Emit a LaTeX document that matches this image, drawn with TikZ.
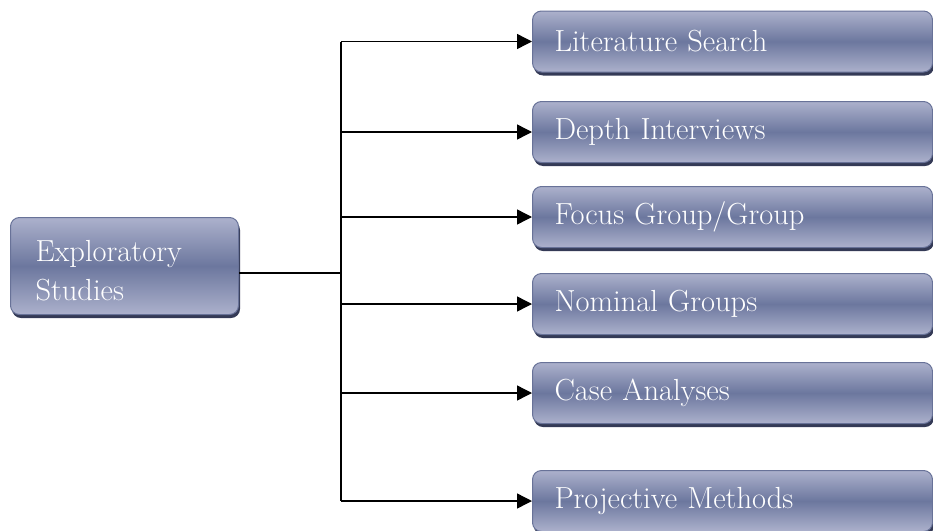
\documentclass[tikz,border=0pt]{standalone}
\usepackage{tikz}
\usetikzlibrary{arrows.meta,shadows}

\definecolor{boxlight}{RGB}{172,177,204}
\definecolor{boxmid}{RGB}{108,119,158}
\definecolor{boxline}{RGB}{104,114,152}
\definecolor{boxshade}{RGB}{52,58,86}

\begin{document}
\begin{tikzpicture}[x=1pt,y=-1pt,
    methodbox/.style={draw=boxline,line width=1pt,rounded corners=9pt,
        top color=boxlight,bottom color=boxlight,middle color=boxmid,
        drop shadow={shadow xshift=1.5pt,shadow yshift=-3.5pt,fill=boxshade,opacity=1},
        text=white,font=\fontsize{30.5}{39}\selectfont,align=left,
        anchor=west,minimum height=61pt,inner xsep=22pt,text width=356pt},
    link/.style={line width=1.4pt},
    arrowlink/.style={link,-{Triangle[length=15pt,width=15pt]}}]
    \useasboundingbox (0,0) rectangle (933,530);
    %%
    \node[methodbox,text width=178pt,minimum height=97pt,inner xsep=25pt] (expl) at (10,266) {\rule{0pt}{30pt}Exploratory\\Studies};
    %%
    \node[methodbox] (lit) at (532,41.5) {Literature Search};
    \node[methodbox] (depth) at (532,132) {Depth Interviews};
    \node[methodbox] (focus) at (532,217) {Focus Group/Group};
    \node[methodbox] (nominal) at (532,304) {Nominal Groups};
    \node[methodbox] (case) at (532,393) {Case Analyses};
    \node[methodbox] (proj) at (532,501) {Projective Methods};
    %%
    \coordinate (trunk) at (341,273);
    \draw[link] ([yshift=-7pt]expl.east) -- (trunk);
    \draw[link] (trunk |- lit.west) -- (trunk |- proj.west);
    \foreach \target in {lit,depth,focus,nominal,case,proj}
        \draw[arrowlink] (trunk |- \target.west) -- (\target.west);
\end{tikzpicture}
\end{document}
